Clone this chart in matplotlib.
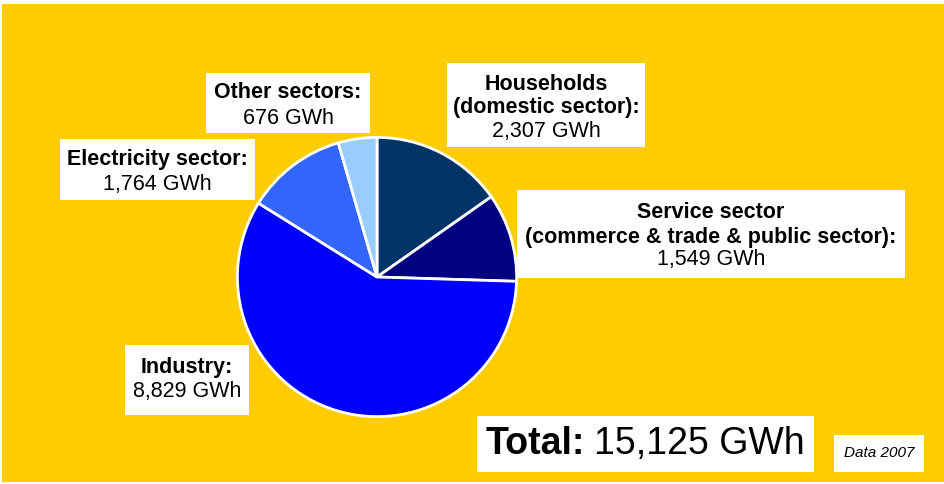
import matplotlib
matplotlib.use("Agg")
import matplotlib.pyplot as plt
from matplotlib.patches import Rectangle

plt.rcParams['font.family'] = ['Liberation Sans', 'DejaVu Sans']

# Electricity consumption by sector, 2007 (GWh)
sectors = ["Households", "Service sector", "Industry", "Electricity sector", "Other sectors"]
values = [2307, 1549, 8829, 1764, 676]
colors = ["#003366", "#000080", "#0000FF", "#3366FF", "#99CCFF"]
label_heads = [
    ["Households", "(domestic sector):"],
    ["Service sector", "(commerce & trade & public sector):"],
    ["Industry:"],
    ["Electricity sector:"],
    ["Other sectors:"],
]
total = sum(values)
year = 2007

W, H = 945, 484
fig = plt.figure(figsize=(W / 100, H / 100), dpi=100)
fig.patch.set_facecolor("white")

def px(x, y):
    return x / W, 1 - y / H

# yellow backdrop
fig.patches.append(Rectangle((2 / W, 2 / H), 943 / W, 478 / H, transform=fig.transFigure,
                             facecolor="#FFCC00", edgecolor="none", zorder=0))

# pie
cx, cy, r = 377, 277, 141
ax = fig.add_axes([(cx - r) / W, (H - cy - r) / H, 2 * r / W, 2 * r / H])
ax.set_zorder(1)
ax.pie(values, colors=colors, startangle=90, counterclock=False,
       wedgeprops=dict(edgecolor="white", linewidth=2))
ax.set_xlim(-1.01, 1.01)
ax.set_ylim(-1.01, 1.01)
ax.set_aspect("equal")
ax.patch.set_alpha(0)

def box(x0, y0, x1, y1):
    fig.patches.append(Rectangle((x0 / W, 1 - y1 / H), (x1 - x0) / W, (y1 - y0) / H,
                                 transform=fig.transFigure, facecolor="white",
                                 edgecolor="none", zorder=2))

def label(rect, xc, ys, idx, size=15.5):
    box(*rect)
    lines = label_heads[idx] + [f"{values[idx]:,} GWh"]
    for i, (line, y) in enumerate(zip(lines, ys)):
        weight = "normal" if i == len(lines) - 1 else "bold"
        fig.text(*px(xc, y), line, ha="center", va="center", fontsize=size,
                 fontweight=weight, color="black", zorder=3)

label((447, 63, 645, 147), 546, [84, 108, 132], 0)
label((517, 190, 905, 278), 711, [212, 237, 260], 1)
label((125, 345, 249, 415), 187, [367, 392], 2)
label((60, 139, 255, 200), 157, [160, 184], 3)
label((206, 73, 370, 133), 288, [93, 118], 4)

# total
box(477, 416, 814, 472)
fig.text(*px(486, 444), "Total:", ha="left", va="center", fontsize=27,
         fontweight="bold", zorder=3)
fig.text(*px(594, 444), f"{total:,} GWh", ha="left", va="center", fontsize=27, zorder=3)

box(834, 435, 924, 472)
fig.text(*px(879, 453), f"Data {year}", ha="center", va="center", fontsize=11,
         style="italic", zorder=3)

fig.savefig("out.png", dpi=100, facecolor=fig.get_facecolor())
